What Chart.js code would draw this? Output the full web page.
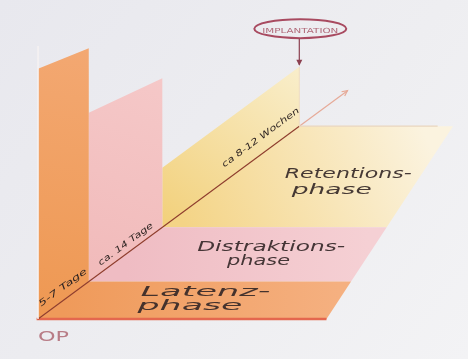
<!DOCTYPE html>
<html>
<head>
<meta charset="utf-8">
<script src="https://cdn.jsdelivr.net/npm/chart.js@4/dist/chart.umd.min.js"></script>
<style>
    html, body { margin: 0; padding: 0; background: #ececef; }
    #wrap { width: 468px; height: 359px; }
</style>
</head>
<body>
<div id="wrap"><canvas id="phaseChart" width="468" height="359"></canvas></div>
<script>
// Daten: Phasen der Distraktion (Zeitachse in Diagramm-Einheiten, 0 = OP)
const phaseLines = [['Latenz-', 'phase'], ['Distraktions-', 'phase'], ['Retentions-', 'phase']];
const durationLabels = ['5-7 Tage', 'ca. 14 Tage', 'ca 8-12 Wochen'];
const phaseStart = [0, 1, 2.45];
const phaseEnd = [1, 2.45, 5.15];
const wallStartHeight = [252, 170, 60];
const wallEndHeight = [235, 150, 60];
const axisEnd = 6.1;
const opLabel = 'OP';
const implantLabel = 'IMPLANTATION';

// Projektion (schräge Perspektive)
const ORIGIN = { x: 37, y: 320 };
const STEP = { x: 51, y: 37.7 };
const FLOOR_W = 290, FLOOR_SHRINK = 26.3;
function project(t, w, h) {
    return {
        x: ORIGIN.x + STEP.x * t + w * (FLOOR_W - FLOOR_SHRINK * t),
        y: ORIGIN.y - STEP.y * t - (h || 0)
    };
}

// Farben
const floorColors = [['#ef9a5a', '#f5b080'], ['#efbcc3', '#f5d0d4'], ['#f4d486', '#fbf3df']];
const wallColors = [['#ee9852', '#f3a872'], ['#f1baba', '#f5c8c8'], ['#f2d07a', '#f9eecb']];

// Layout der Beschriftungen
const labelLayout = [
    { lines: [{ x: 140, y: 297, w: 130 }, { x: 137, y: 311, w: 105 }] },
    { lines: [{ x: 197, y: 252, w: 148 }, { x: 227, y: 266, w: 63 }] },
    { lines: [{ x: 285, y: 178, w: 127 }, { x: 292, y: 194, w: 80 }] }
];
const durationLayout = [
    { t: 0.49, lift: 13, w: 58 },
    { t: 1.73, lift: 10, w: 66 },
    { t: 4.39, lift: 17, w: 94 }
];

// Gradient in Pixelkoordinaten über die Chart-Skalen
function gradient(chart, p0, p1, stops) {
    const sx = chart.scales.x, sy = chart.scales.y;
    if (!sx || !sy || !chart.chartArea) return stops[0];
    const c = [sx.getPixelForValue(p0.x), sy.getPixelForValue(p0.y),
               sx.getPixelForValue(p1.x), sy.getPixelForValue(p1.y)];
    if (!c.every(Number.isFinite)) return stops[0];
    const g = chart.ctx.createLinearGradient(c[0], c[1], c[2], c[3]);
    g.addColorStop(0, stops[0]);
    g.addColorStop(1, stops[1]);
    return g;
}

const datasets = [];

// Bodenflächen
phaseLines.forEach((_, i) => {
    const s = phaseStart[i], e = phaseEnd[i];
    const a = i === 2 ? project(s, 0.1, 0) : project((s + e) / 2, 0, 0);
    const b = i === 2 ? project(e, 0.8, 0) : project((s + e) / 2, 1, 0);
    datasets.push({
        data: [project(s, 0, 0), project(s, 1, 0), project(e, 1, 0), project(e, 0, 0)],
        showLine: true, fill: 'shape', borderWidth: 0, pointRadius: 0, order: 30,
        backgroundColor: c => gradient(c.chart, a, b, floorColors[i])
    });
});

// Wände
phaseLines.forEach((_, i) => {
    const s = phaseStart[i], e = phaseEnd[i];
    const a = project(s, 0, 0), b = project(e, 0, wallEndHeight[i]);
    datasets.push({
        data: [project(s, 0, 0), project(e, 0, 0), project(e, 0, wallEndHeight[i]), project(s, 0, wallStartHeight[i])],
        showLine: true, fill: 'shape', borderWidth: 0, pointRadius: 0, order: 20,
        backgroundColor: c => gradient(c.chart, a, b, wallColors[i])
    });
});

// Linien
function line(points, color, width) {
    datasets.push({
        data: points, showLine: true, fill: false, pointRadius: 0,
        borderColor: color, borderWidth: width, order: 10
    });
}
const tEnd = phaseEnd[2];
line([project(0, 0, 0), project(0, 0, 275)], '#f6f2f2', 1.5);
line([project(tEnd, 0, 0), project(tEnd, 0, wallEndHeight[2])], '#efdcc2', 1);
line([project(tEnd, 0, 0), project(tEnd, 0.9, 0)], '#ead6be', 1.2);
line([project(tEnd, 0, 0), project(axisEnd, 0, 0)], '#e6aa98', 1.2);
line([project(0, 0, 0), project(tEnd, 0, 0)], '#8e3c2c', 1.1);
line([project(0, -0.005, 0), project(0, 1, 0)], '#e4674e', 2.5);

// Beschriftungen
const textPlugin = {
    id: 'phaseText',
    beforeDraw(chart) {
        const ctx = chart.ctx;
        const g = ctx.createLinearGradient(0, 0, 468, 359);
        g.addColorStop(0, '#e8e8ee');
        g.addColorStop(0.6, '#eeeef1');
        g.addColorStop(1, '#f3f3f5');
        ctx.save();
        ctx.fillStyle = g;
        ctx.fillRect(0, 0, chart.width, chart.height);
        ctx.restore();
    },
    afterDatasetsDraw(chart) {
        const ctx = chart.ctx;
        const sx = chart.scales.x, sy = chart.scales.y;
        const px = p => ({ x: sx.getPixelForValue(p.x), y: sy.getPixelForValue(p.y) });

        function stretched(text, x, y, width, font, color, align) {
            ctx.save();
            ctx.font = font;
            const m = ctx.measureText(text).width;
            const k = width / m;
            ctx.translate(x, y);
            ctx.scale(k, 1);
            ctx.fillStyle = color;
            ctx.textAlign = align || 'left';
            ctx.fillText(text, 0, 0);
            ctx.restore();
        }

        // Phasennamen
        phaseLines.forEach((lines, i) => {
            lines.forEach((txt, j) => {
                const L = labelLayout[i].lines[j];
                const p = px({ x: L.x, y: L.y });
                stretched(txt, p.x, p.y, L.w, 'italic 14px "DejaVu Sans"', 'rgba(50,38,38,0.9)');
            });
        });

        // Dauer entlang der Achse
        const ang = -Math.atan2(STEP.y, STEP.x);
        durationLabels.forEach((txt, i) => {
            const d = durationLayout[i];
            const p = px(project(d.t, 0, d.lift));
            ctx.save();
            ctx.translate(p.x, p.y);
            ctx.rotate(ang);
            ctx.font = 'italic 8.5px "DejaVu Sans"';
            const k = d.w / ctx.measureText(txt).width;
            ctx.scale(k, 1);
            ctx.fillStyle = '#2e2422';
            ctx.textAlign = 'center';
            ctx.textBaseline = 'middle';
            ctx.fillText(txt, 0, 0);
            ctx.restore();
        });

        // Pfeilspitze der Zeitachse
        const a0 = px(project(axisEnd - 0.25, 0, 0)), a1 = px(project(axisEnd, 0, 0));
        const dir = Math.atan2(a1.y - a0.y, a1.x - a0.x);
        ctx.save();
        ctx.strokeStyle = '#e6aa98';
        ctx.lineWidth = 1.2;
        ctx.beginPath();
        ctx.moveTo(a1.x - 6 * Math.cos(dir - 0.45), a1.y - 6 * Math.sin(dir - 0.45));
        ctx.lineTo(a1.x, a1.y);
        ctx.lineTo(a1.x - 6 * Math.cos(dir + 0.45), a1.y - 6 * Math.sin(dir + 0.45));
        ctx.stroke();
        ctx.restore();

        // OP
        const op = px(project(0, 0, 0));
        stretched(opLabel, op.x, op.y + 22, 31, '14px "DejaVu Sans"', '#b87c86');

        // Implantation
        const top = px(project(tEnd, 0, wallEndHeight[2]));
        const cx = top.x + 1, cy = top.y - 38;
        ctx.save();
        ctx.strokeStyle = '#a84a60';
        ctx.lineWidth = 2;
        ctx.beginPath();
        ctx.ellipse(cx, cy, 46, 9.5, 0, 0, Math.PI * 2);
        ctx.stroke();
        ctx.strokeStyle = '#8c4050';
        ctx.lineWidth = 1.2;
        ctx.beginPath();
        ctx.moveTo(top.x, cy + 10);
        ctx.lineTo(top.x, top.y - 2);
        ctx.stroke();
        ctx.fillStyle = '#8c4050';
        ctx.beginPath();
        ctx.moveTo(top.x - 3, top.y - 7);
        ctx.lineTo(top.x + 3, top.y - 7);
        ctx.lineTo(top.x, top.y - 1);
        ctx.closePath();
        ctx.fill();
        ctx.restore();
        ctx.save();
        ctx.textBaseline = 'middle';
        stretched(implantLabel, cx - 38, cy + 3, 76, '7px "DejaVu Sans"', '#b06878');
        ctx.restore();
    }
};

const phaseChart = new Chart(document.getElementById('phaseChart'), {
    type: 'scatter',
    data: { datasets: datasets },
    options: {
        responsive: false,
        animation: false,
        layout: { padding: 0 },
        elements: { line: { tension: 0 }, point: { radius: 0, hoverRadius: 0 } },
        plugins: { legend: { display: false }, tooltip: { enabled: false } },
        scales: {
            x: { type: 'linear', min: 0, max: 468, display: false },
            y: { type: 'linear', min: 0, max: 359, reverse: true, display: false }
        }
    },
    plugins: [textPlugin]
});
// zweites Update, damit die Verläufe mit fertigen Skalen berechnet werden
phaseChart.update('none');
</script>
</body>
</html>
